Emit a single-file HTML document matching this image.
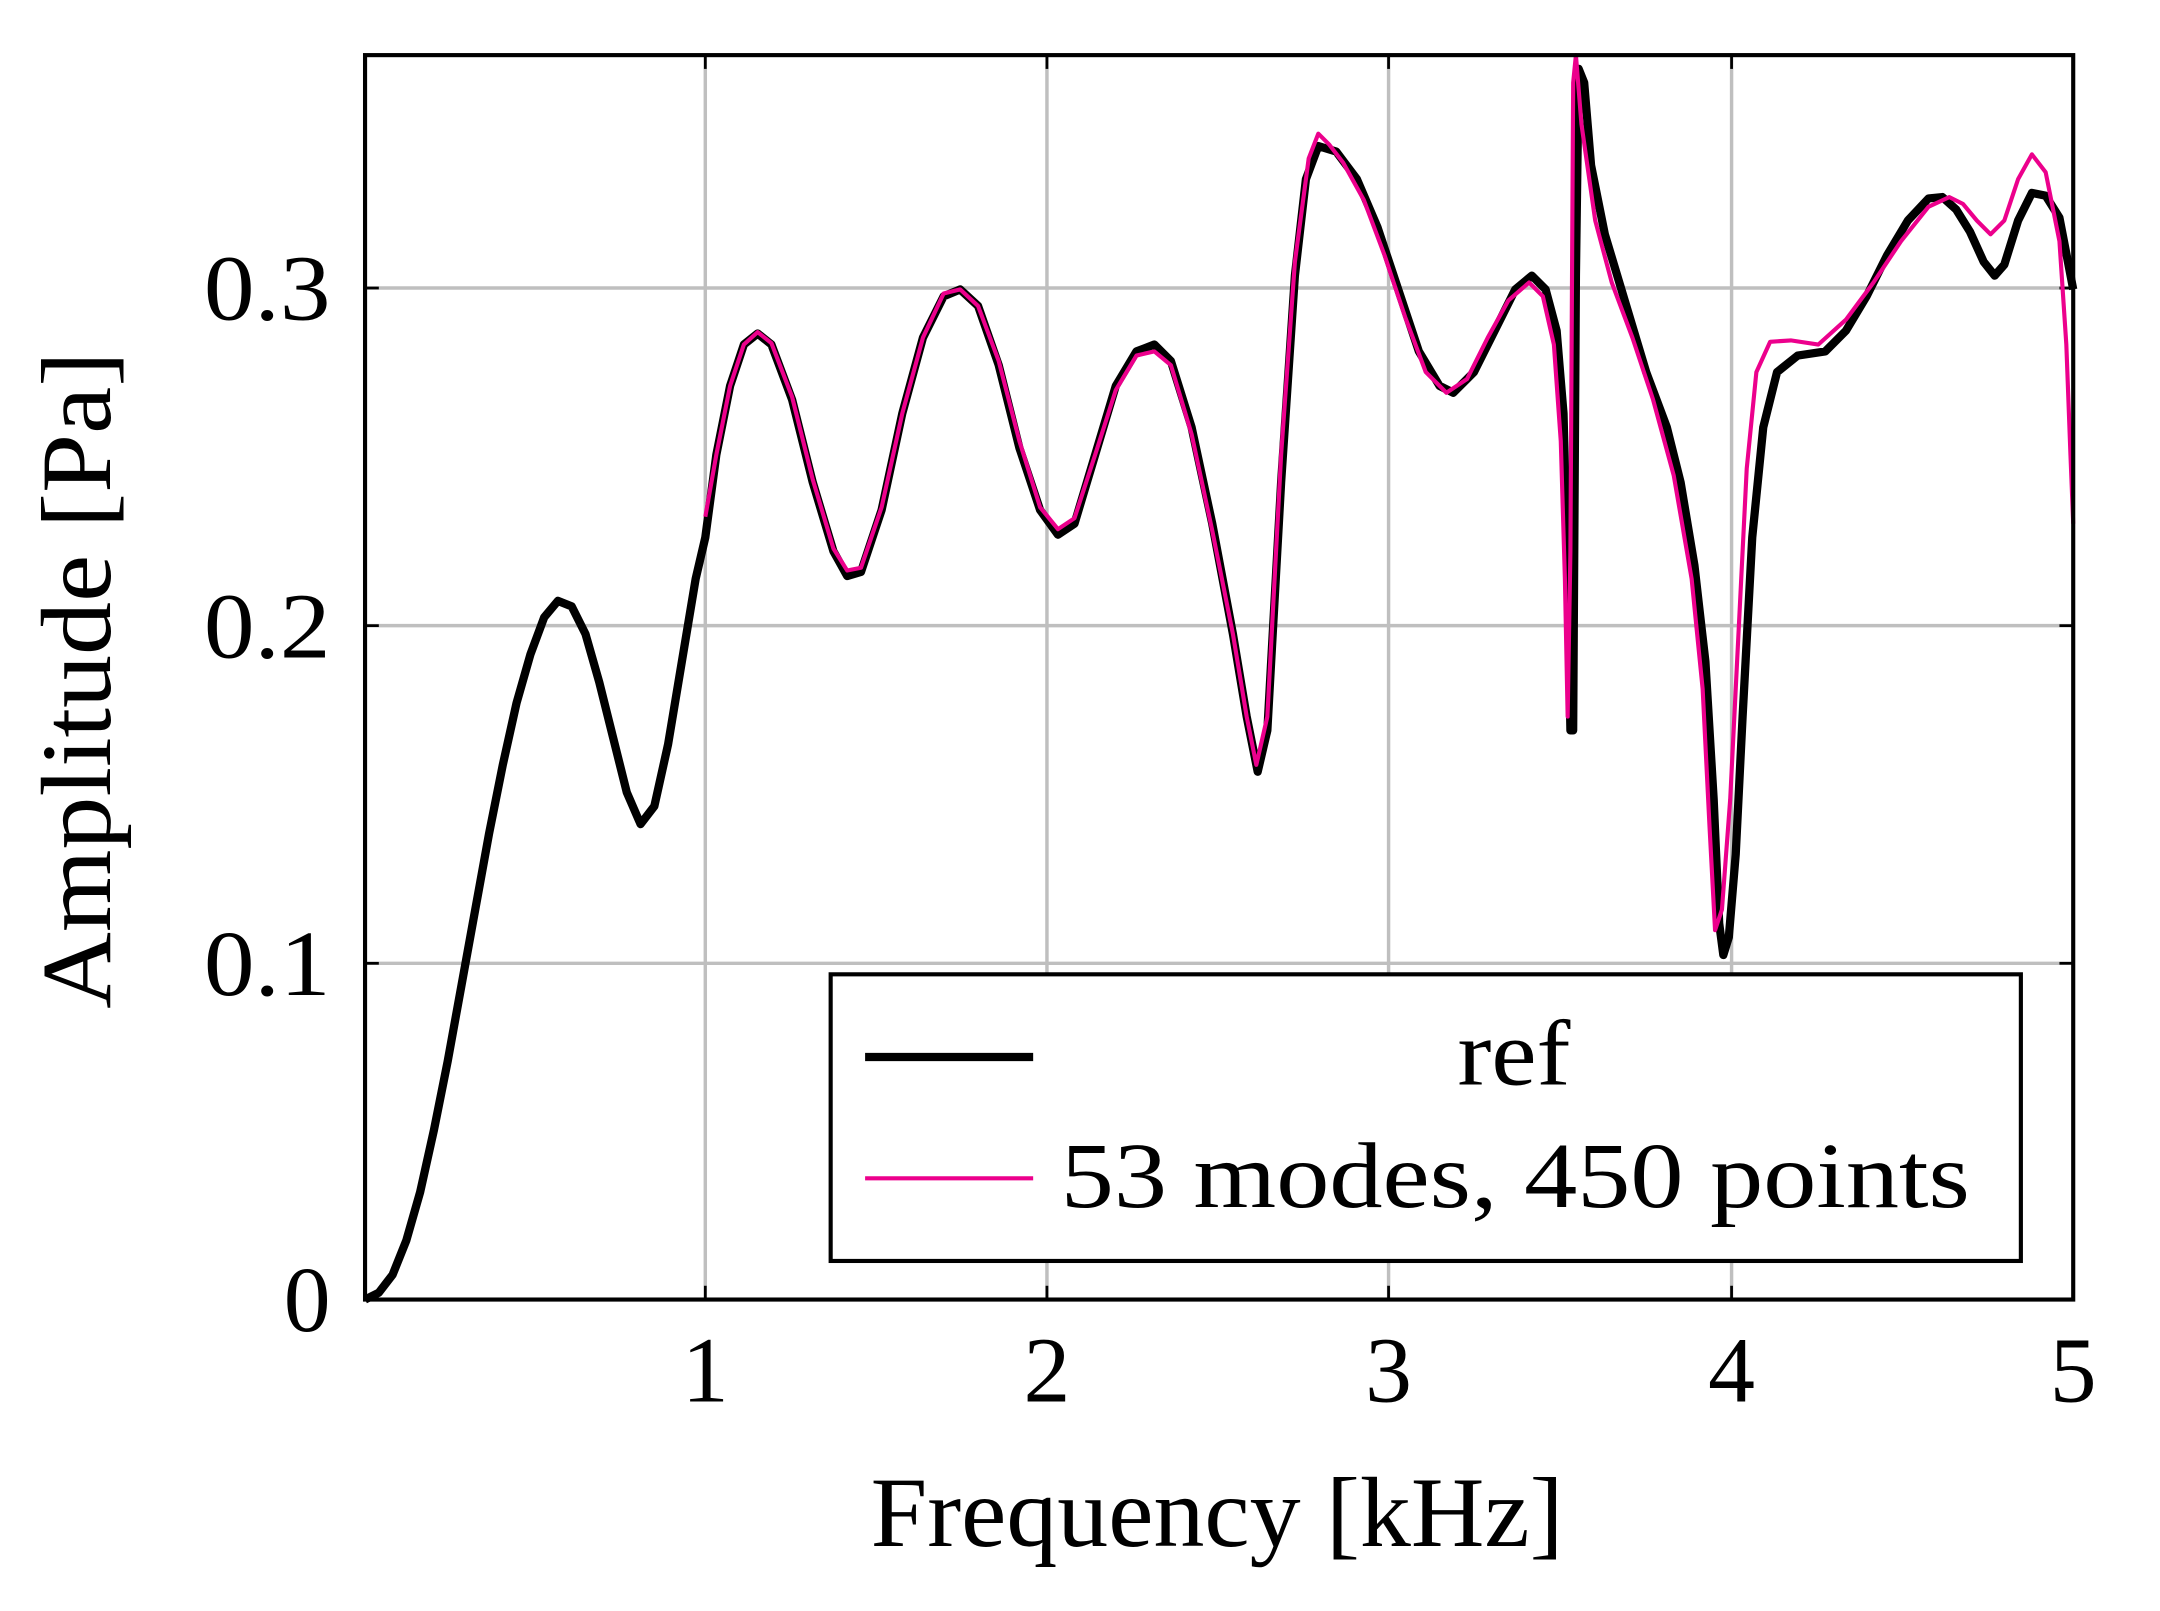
<!DOCTYPE html>
<html><head><meta charset="utf-8"><style>html,body{margin:0;padding:0;background:#fff;}svg{display:block}</style></head>
<body>
<svg width="2160" height="1611" viewBox="0 0 1568 1169" preserveAspectRatio="none" xmlns="http://www.w3.org/2000/svg">
<rect width="1568" height="1169" fill="#fff"/>
<g stroke="#bfbfbf" stroke-width="2.5">
<line x1="512" y1="40" x2="512" y2="943"/><line x1="760" y1="40" x2="760" y2="943"/>
<line x1="1008" y1="40" x2="1008" y2="943"/><line x1="1257" y1="40" x2="1257" y2="943"/>
<line x1="265" y1="209" x2="1505" y2="209"/><line x1="265" y1="454" x2="1505" y2="454"/>
<line x1="265" y1="699" x2="1505" y2="699"/>
</g>
<g stroke="#000" stroke-width="2">
<line x1="512" y1="943" x2="512" y2="933"/><line x1="760" y1="943" x2="760" y2="933"/><line x1="1008" y1="943" x2="1008" y2="933"/><line x1="1257" y1="943" x2="1257" y2="933"/>
<line x1="512" y1="40" x2="512" y2="50"/><line x1="760" y1="40" x2="760" y2="50"/><line x1="1008" y1="40" x2="1008" y2="50"/><line x1="1257" y1="40" x2="1257" y2="50"/>
<line x1="265" y1="209" x2="275" y2="209"/><line x1="265" y1="454" x2="275" y2="454"/><line x1="265" y1="699" x2="275" y2="699"/>
<line x1="1505" y1="209" x2="1495" y2="209"/><line x1="1505" y1="454" x2="1495" y2="454"/><line x1="1505" y1="699" x2="1495" y2="699"/>
</g>
<polyline fill="none" stroke="#000" stroke-width="6" stroke-linejoin="round" points="265,943 275,938 285,925 295,900 305,865 315,820 325,770 335,715 345,660 355,605 365,555 375,510 385,475 395,448 405,436 415,440 425,460 435,495 445,535 455,575 465,598 475,585 485,540 495,480 505,420 512,390 520,330 530,280 540,250 550,242 560,250 575,290 590,350 605,400 615,418 625,415 640,370 655,300 670,245 685,215 697,210 710,222 725,265 740,325 755,370 768,388 780,380 795,330 810,280 825,255 838,250 850,262 865,310 880,380 895,460 905,520 913,560 920,530 930,350 940,200 948,130 957,106 970,110 985,130 1000,165 1015,210 1030,255 1045,280 1055,285 1070,270 1085,240 1100,210 1112,200 1122,210 1130,240 1135,300 1138,420 1140,530 1142,530 1144,200 1146,50 1150,60 1155,120 1165,170 1180,220 1195,270 1210,310 1220,350 1230,410 1238,480 1244,580 1248,670 1251,693 1255,680 1260,620 1265,520 1272,390 1280,310 1290,270 1305,258 1325,255 1340,240 1355,215 1370,185 1385,160 1400,144 1410,143 1420,152 1430,168 1440,190 1448,200 1455,192 1465,160 1475,140 1485,142 1495,158 1505,210"/>
<polyline fill="none" stroke="#ec008c" stroke-width="3" stroke-linejoin="round" points="512,375 520,330 530,280 540,250 550,241 560,249 575,288 590,348 605,398 615,414 625,412 640,368 655,300 670,245 685,213 697,210 710,222 725,262 740,320 755,368 768,384 780,376 795,330 810,283 825,258 838,255 850,265 865,315 880,385 895,460 905,520 912,555 920,520 930,330 940,190 950,115 957,97 965,105 975,118 990,145 1005,185 1020,230 1035,270 1050,285 1065,275 1080,245 1095,218 1110,205 1120,215 1128,250 1133,320 1136,420 1138,520 1140,400 1142,60 1144,40 1148,90 1158,160 1170,205 1185,245 1200,290 1215,345 1228,420 1236,500 1241,600 1245,675 1250,660 1256,580 1262,460 1268,340 1275,270 1285,248 1300,247 1320,250 1340,232 1360,205 1380,175 1400,150 1415,143 1425,148 1435,160 1445,170 1455,160 1465,130 1475,112 1485,125 1495,175 1500,250 1503,330 1505,380"/>
<rect x="265" y="40" width="1240" height="903" fill="none" stroke="#000" stroke-width="3"/>
<rect x="603" y="707" width="864" height="208" fill="#fff" stroke="#000" stroke-width="3"/>
<line x1="628" y1="767" x2="750" y2="767" stroke="#000" stroke-width="6"/>
<line x1="628" y1="855" x2="750" y2="855" stroke="#ec008c" stroke-width="3"/>
<g font-family="Liberation Serif, serif" font-size="68" fill="#000">
<text x="1058" y="787" textLength="82" lengthAdjust="spacingAndGlyphs">ref</text>
<text x="770" y="876" textLength="660" lengthAdjust="spacingAndGlyphs">53 modes, 450 points</text>
<text x="148" y="232" textLength="92" lengthAdjust="spacingAndGlyphs">0.3</text>
<text x="148" y="477" textLength="92" lengthAdjust="spacingAndGlyphs">0.2</text>
<text x="148" y="722" textLength="92" lengthAdjust="spacingAndGlyphs">0.1</text>
<text x="240" y="966" text-anchor="end">0</text>
<text x="512" y="1017" text-anchor="middle">1</text>
<text x="760" y="1017" text-anchor="middle">2</text>
<text x="1008" y="1017" text-anchor="middle">3</text>
<text x="1257" y="1017" text-anchor="middle">4</text>
<text x="1505" y="1017" text-anchor="middle">5</text>
<text x="632" y="1122" font-size="72" textLength="503" lengthAdjust="spacingAndGlyphs">Frequency [kHz]</text>
<text transform="translate(80,732) rotate(-90)" font-size="72" textLength="477" lengthAdjust="spacingAndGlyphs">Amplitude [Pa]</text>
</g>
</svg>
</body></html>
